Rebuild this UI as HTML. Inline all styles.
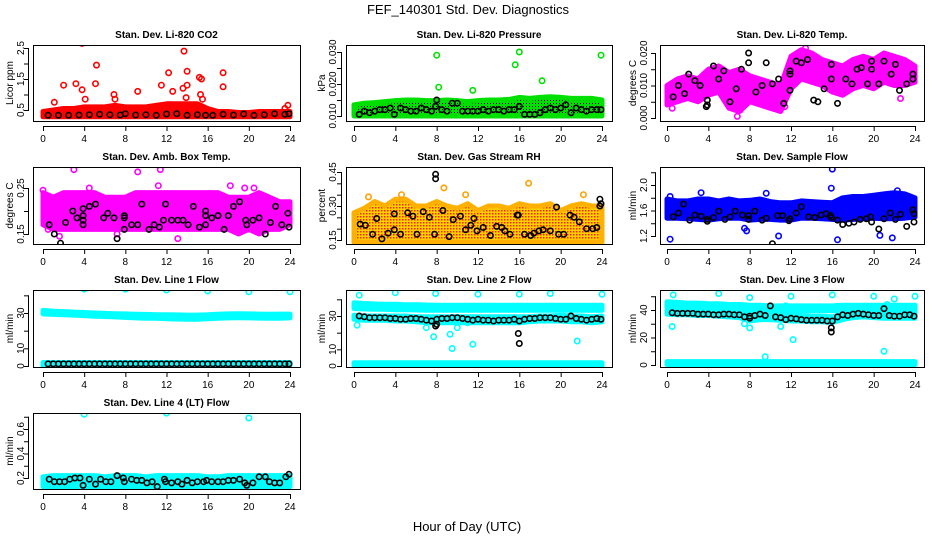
<!DOCTYPE html>
<html><head><meta charset="utf-8"><style>
html,body{margin:0;padding:0;background:#fff;}
svg{display:block;font-family:"Liberation Sans",sans-serif;}
</style></head><body>
<svg id="c" width="936" height="540" viewBox="0 0 936 540">
<defs>
<pattern id="rhpat" width="3" height="3" patternUnits="userSpaceOnUse"><rect width="3" height="3" fill="#ffd000"/><rect x="0" y="0" width="1.5" height="1.5" fill="#ff2000"/></pattern>
<pattern id="prpat" width="3" height="3" patternUnits="userSpaceOnUse"><rect width="3" height="3" fill="#00e000"/><rect x="1" y="1" width="1" height="1" fill="#000"/></pattern>
</defs>
<text x="468" y="14" text-anchor="middle" font-size="13">FEF_140301  Std. Dev. Diagnostics</text>
<text x="467" y="531" text-anchor="middle" font-size="13">Hour of Day (UTC)</text>
</svg>
<script>
// ---------- data ----------
const hours = [0,1,2,3,4,5,6,7,8,9,10,11,12,13,14,15,16,17,18,19,20,21,22,23,24];
const xTicks = [0,4,8,12,16,20,24];

const co2Lo = [0.28,0.28,0.28,0.28,0.28,0.28,0.28,0.28,0.28,0.28,0.28,0.28,0.28,0.28,0.28,0.28,0.28,0.28,0.28,0.28,0.28,0.28,0.28,0.28,0.28];
const co2Hi = [0.45,0.5,0.55,0.55,0.6,0.6,0.6,0.65,0.6,0.6,0.6,0.65,0.7,0.7,0.7,0.7,0.55,0.45,0.45,0.42,0.42,0.45,0.45,0.45,0.45];
const co2BlackX = [0.5,1.5,2.5,3.5,4.5,5.5,6.5,7.5,8,9,10,11,12,13,14,15,15.8,16.5,17.5,18.5,19.5,20.5,21.5,22.5,23.5,23.9];
const co2BlackY = [0.33,0.33,0.33,0.34,0.35,0.36,0.35,0.34,0.38,0.34,0.35,0.33,0.37,0.38,0.33,0.35,0.33,0.33,0.36,0.34,0.37,0.33,0.35,0.38,0.36,0.38];
const co2OutX = [3.8,2,3.2,3.8,4.1,5.2,5.1,1.1,6.9,7,9.2,11.5,12.2,12.6,13.7,13.6,14,14,13.9,15.2,15.4,15.3,15.5,17.5,17.5,23.5,23.8];
const co2OutY = [2.65,1.3,1.35,1.15,0.85,1.95,1.35,0.75,1.0,0.85,1.1,1.3,1.7,1.1,2.4,1.2,1.75,1.3,0.9,1.55,1.5,1.0,0.85,1.7,1.25,0.55,0.65];
const co2Ticks = [0.5,1,1.5,2,2.5];
const co2Labels = ["0.5","","1.5","","2.5"];

const prLo = [0.0100,0.0100,0.0100,0.0100,0.0100,0.0100,0.0100,0.0100,0.0100,0.0100,0.0100,0.0100,0.0100,0.0100,0.0100,0.0100,0.0100,0.0100,0.0100,0.0100,0.0100,0.0100,0.0100,0.0100,0.0100];
const prHi = [0.0135,0.014,0.0142,0.0145,0.0148,0.015,0.015,0.0148,0.0148,0.015,0.0148,0.0145,0.0148,0.015,0.015,0.0152,0.0158,0.0155,0.0158,0.016,0.0158,0.0155,0.0155,0.0155,0.015];
const prBlackX = [0.5,1,1.5,2,2.5,3,3.5,3.9,4.5,5,5.5,6,6.5,7,7.5,7.9,8,8.5,9,9.5,10,10.5,11,11.5,12,12.5,13,13.5,14,14.5,15,15.5,16,16.5,17,17.5,18,18.5,19,19.5,20,20.5,21,21.5,22,22.5,23,23.5,23.9];
const prBlackY = [0.0105,0.0115,0.011,0.0115,0.012,0.012,0.0125,0.0105,0.0125,0.012,0.0115,0.0115,0.0125,0.012,0.0115,0.013,0.015,0.012,0.0115,0.014,0.014,0.0115,0.0115,0.0115,0.0115,0.012,0.0115,0.012,0.012,0.0115,0.012,0.012,0.013,0.0105,0.0105,0.0105,0.011,0.012,0.0125,0.012,0.0125,0.0135,0.011,0.0125,0.012,0.0115,0.012,0.012,0.012];
const prOutX = [8,8.2,11.5,15.6,16,18.2,23.9];
const prOutY = [0.029,0.019,0.018,0.026,0.030,0.021,0.029];
const prTicks = [0.010,0.015,0.020,0.025,0.030];
const prLabels = ["0.010","","0.020","","0.030"];

const tpLo = [0.004,0.005,0.006,0.005,0.007,0.008,0.003,0.002,0.005,0.004,0.003,0.002,0.009,0.012,0.011,0.010,0.008,0.007,0.009,0.010,0.009,0.011,0.010,0.010,0.011];
const tpHi = [0.010,0.012,0.013,0.012,0.015,0.016,0.014,0.015,0.013,0.012,0.011,0.010,0.019,0.021,0.020,0.018,0.017,0.016,0.018,0.019,0.018,0.020,0.019,0.018,0.016];
const tpBlackX = [0.6,1.1,1.7,2.1,2.7,3.2,3.9,3.9,3.8,4.5,5,5.5,6.1,6.7,7.2,7.9,7.9,8.6,9.2,9.6,10.2,10.8,11.3,11.9,11.9,11.9,12.5,13,13.6,14.2,14.6,15.2,15.9,15.9,16.5,17.3,17.9,18.4,18.8,19.4,19.8,19.8,20.5,21,21.7,22.1,22.5,23.2,23.8,23.8];
const tpBlackY = [0.0065,0.010,0.0075,0.0135,0.0115,0.010,0.0055,0.004,0.0035,0.016,0.012,0.0145,0.005,0.009,0.015,0.020,0.017,0.008,0.010,0.017,0.0105,0.012,0.0045,0.0135,0.0145,0.0085,0.0175,0.017,0.018,0.0055,0.005,0.009,0.012,0.0165,0.0045,0.012,0.0105,0.015,0.0155,0.0105,0.0175,0.015,0.0105,0.0175,0.0135,0.0165,0.0085,0.0105,0.0135,0.012];
const tpOutX = [6.8,0.5,7.1,11.4,22.6,13.4];
const tpOutY = [0.0005,0.003,0.0025,0.0035,0.006,0.0215];
const tpTicks = [0,0.005,0.010,0.015,0.020];
const tpLabels = ["0.000","","0.010","","0.020"];

const abLo = [0.17,0.16,0.16,0.16,0.16,0.16,0.16,0.16,0.16,0.16,0.16,0.16,0.16,0.16,0.16,0.16,0.16,0.16,0.16,0.15,0.16,0.15,0.16,0.16,0.17];
const abHi = [0.24,0.23,0.24,0.24,0.24,0.24,0.23,0.23,0.23,0.24,0.24,0.24,0.24,0.24,0.24,0.24,0.24,0.24,0.23,0.23,0.23,0.24,0.23,0.22,0.22];
const abBlackX = [0.6,1.1,1.7,2.2,2.9,3.3,3.9,3.9,3.9,3.9,4.5,5.1,5.9,6.3,6.9,7.2,7.9,7.9,7.9,8.6,9.2,9.6,10.3,10.8,11.3,11.7,11.9,12.5,13.1,13.6,14.1,14.6,15.2,15.8,15.8,15.8,16.4,17,17.6,18,18.5,19.1,19.7,19.8,20.4,21,21.6,22.1,22.6,23.2,23.8,23.9];
const abBlackY = [0.17,0.15,0.13,0.175,0.2,0.185,0.205,0.19,0.18,0.17,0.21,0.215,0.185,0.195,0.185,0.14,0.19,0.16,0.185,0.17,0.17,0.215,0.16,0.17,0.165,0.18,0.215,0.18,0.18,0.18,0.17,0.21,0.165,0.2,0.19,0.17,0.185,0.19,0.16,0.19,0.21,0.22,0.18,0.17,0.18,0.185,0.15,0.175,0.21,0.17,0.195,0.165];
const abOutX = [0,3,9.2,11.4,11.2,16.6,18.2,19.6,20.5,13.1,7.2,1.6,0.5,4.5];
const abOutY = [0.245,0.29,0.285,0.29,0.255,0.305,0.255,0.25,0.25,0.14,0.15,0.145,0.16,0.25];
const abTicks = [0.15,0.20,0.25];
const abLabels = ["0.15","","0.25"];

const rhLo = [0.14,0.14,0.14,0.14,0.14,0.14,0.14,0.14,0.14,0.14,0.14,0.14,0.14,0.14,0.14,0.14,0.14,0.14,0.14,0.14,0.14,0.14,0.14,0.14,0.14];
const rhHi = [0.27,0.29,0.32,0.3,0.33,0.33,0.3,0.3,0.32,0.3,0.29,0.31,0.28,0.3,0.3,0.29,0.31,0.3,0.3,0.31,0.28,0.3,0.31,0.3,0.3];
const rhBlackX = [0.6,1.1,1.8,2.2,2.7,3.3,3.9,3.9,4.5,5.2,5.7,6.1,6.7,7.3,7.9,7.9,7.8,8.6,9.2,9.6,10.3,10.8,11.3,11.6,11.9,12.5,13.2,13.8,14.3,14.6,15.1,15.8,15.9,16.5,17.1,17.4,17.9,18.3,19,19.6,19.8,20.3,20.9,21.3,21.8,22.5,23.1,23.5,23.8,23.9,23.8];
const rhBlackY = [0.22,0.215,0.175,0.245,0.155,0.18,0.265,0.195,0.175,0.27,0.255,0.175,0.275,0.25,0.44,0.42,0.175,0.28,0.165,0.24,0.255,0.195,0.215,0.245,0.19,0.205,0.17,0.21,0.205,0.19,0.175,0.26,0.26,0.175,0.17,0.18,0.19,0.195,0.19,0.295,0.175,0.175,0.26,0.25,0.23,0.2,0.2,0.205,0.33,0.31,0.3];
const rhOutX = [8.7,10.8,16.9,22.2,4.6,1.4];
const rhOutY = [0.38,0.35,0.4,0.35,0.35,0.34];
const rhTicks = [0.15,0.20,0.25,0.30,0.35,0.40,0.45];
const rhLabels = ["0.15","","","0.30","","","0.45"];

const sfLo = [1.48,1.48,1.47,1.46,1.45,1.47,1.48,1.48,1.45,1.46,1.46,1.45,1.45,1.48,1.48,1.47,1.46,1.45,1.46,1.47,1.48,1.47,1.47,1.48,1.5];
const sfHi = [1.78,1.75,1.75,1.78,1.78,1.75,1.78,1.75,1.76,1.78,1.74,1.72,1.72,1.75,1.74,1.73,1.72,1.8,1.82,1.82,1.84,1.86,1.88,1.86,1.8];
const sfBlackX = [0.6,1.1,1.6,2.2,2.7,3.3,3.9,3.9,4.5,5,5.6,6.1,6.6,7.3,7.9,7.9,8.5,9.2,9.6,10.2,10.7,11.2,11.8,11.9,12.5,13,13.7,14.3,14.9,15.4,15.8,15.9,16.5,17,17.6,18.1,18.7,19.3,19.7,19.8,20.5,21,21.6,22.1,22.6,23.2,23.8,23.9,23.9];
const sfBlackY = [1.5,1.56,1.7,1.45,1.53,1.51,1.46,1.43,1.49,1.59,1.46,1.5,1.59,1.53,1.46,1.52,1.59,1.45,1.48,1.08,1.52,1.52,1.44,1.47,1.56,1.66,1.5,1.49,1.53,1.55,1.52,1.49,1.45,1.38,1.4,1.42,1.46,1.47,1.5,1.42,1.31,1.47,1.56,1.46,1.54,1.35,1.61,1.55,1.42];
const sfOutX = [0.3,0.3,7.5,7.7,10.8,16,15.9,16.5,20.6,21.8,3.3,9.6,22.3];
const sfOutY = [1.15,1.82,1.32,1.28,1.2,2.25,1.95,1.14,1.21,1.17,1.88,1.87,1.91];
const sfTicks = [1.2,1.4,1.6,1.8,2.0,2.2];
const sfLabels = ["1.2","","1.6","","2.0",""];

const l1Lo = [29.5,29.2,29,28.8,28.5,28.2,28,27.8,27.5,27.2,27,27,26.8,26.6,26.5,26.5,26.8,27,27.2,27.3,27.2,27.1,27,27,27.2];
const l1Hi = [31.5,31,30.8,30.5,30.3,30,29.8,29.6,29.5,29.3,29.2,29,29,28.9,28.8,28.8,29,29.3,29.5,29.6,29.5,29.4,29.3,29.4,29.4];
const l1BaseLo = [0.3,0.3,0.3,0.3,0.3,0.3,0.3,0.3,0.3,0.3,0.3,0.3,0.3,0.3,0.3,0.3,0.3,0.3,0.3,0.3,0.3,0.3,0.3,0.3,0.3];
const l1BaseHi = [2,2,2,2,2,2,2,2,2,2,2,2,2,2,2,2,2,2,2,2,2,2,2,2,2];
const l1BlackX = [0.5,1,1.5,2,2.5,3,3.5,4,4.5,5,5.5,6,6.5,7,7.5,8,8.5,9,9.5,10,10.5,11,11.5,12,12.5,13,13.5,14,14.5,15,15.5,16,16.5,17,17.5,18,18.5,19,19.5,20,20.5,21,21.5,22,22.5,23,23.5,23.9];
const l1BlackY = [1.2,1.2,1.2,1.2,1.2,1.2,1.2,1.2,1.2,1.2,1.2,1.2,1.2,1.2,1.2,1.2,1.2,1.2,1.2,1.2,1.2,1.2,1.2,1.2,1.2,1.2,1.2,1.2,1.2,1.2,1.2,1.2,1.2,1.2,1.2,1.2,1.2,1.2,1.2,1.2,1.2,1.2,1.2,1.2,1.2,1.2,1.2,1.2];
const l1OutX = [4,8,12,16,20,24];
const l1OutY = [43.5,43.5,43,42.5,42,42];
const l1Ticks = [0,10,20,30,40];
const l1Labels = ["0","10","","30",""];

const l2UpLo = [34.5,34.2,34,34,33.8,33.8,33.6,33.5,33.5,33.5,33.5,33.5,33.4,33.4,33.4,33.4,33.4,33.5,33.5,33.5,33.5,33.5,33.5,33.5,33.5];
const l2UpHi = [38,37.5,37.2,37,37,36.8,36.8,36.6,36.5,36.5,36.5,36.5,36.4,36.4,36.4,36.4,36.5,36.5,36.5,36.5,36.5,36.5,36.5,36.5,36.5];
const l2MidLo = [28,27.5,27.5,27.5,27,27,26.5,26,26,26,26,26,26,26,26,26,26,26.5,27,27,27,26.5,26.5,26,26.5];
const l2MidHi = [30.5,30,30,30,30,30,29.5,29.5,29.5,29.5,29.5,29.5,29.5,29.5,29.5,29.5,29.5,29.5,30,30,30.5,30,30,29.5,30];
const l2BaseLo = [0.3,0.3,0.3,0.3,0.3,0.3,0.3,0.3,0.3,0.3,0.3,0.3,0.3,0.3,0.3,0.3,0.3,0.3,0.3,0.3,0.3,0.3,0.3,0.3,0.3];
const l2BaseHi = [2,2,2,2,2,2,2,2,2,2,2,2,2,2,2,2,2,2,2,2,2,2,2,2,2];
const l2BlackX = [0.5,1,1.5,2,2.5,3,3.5,4,4.5,5,5.5,6,6.5,7,7.5,8,8,7.9,8.5,9,9.5,10,10.5,11,11.5,12,12.5,13,13.5,14,14.5,15,15.5,16,16,15.9,16.5,17,17.5,18,18.5,19,19.5,20,20.5,21,21.5,22,22.5,23,23.5,23.9];
const l2BlackY = [30,29.5,29,29,29,29,28.5,28.5,28,28,28.5,28.5,28,27.5,27,28,25,24,28.5,28.5,29,29,28.5,28,27.5,28,27.5,27.5,27,27.5,27.5,27.5,28,27,13.5,19.5,28,28.5,28.5,29,29,29,28.5,28,28,30,28.5,28,27.5,28,28.5,28];
const l2OutX = [0.5,0.3,4,7.9,7,7.5,7.7,9.5,9.3,10,11,11.5,12,16,18,19,21.6,22,24];
const l2OutY = [42.5,24.5,44,43.5,23,27,17.5,10.5,19,23,26,13,43,43,28,43.5,15,28,43];
const l2Ticks = [0,10,20,30,40];
const l2Labels = ["0","10","","30",""];

const l3UpLo = [42,41.5,41.5,41,41,40.5,40.5,40,40,39.5,39.5,39.5,39.5,39.5,39.5,39.5,39.5,40,40,40,40,40,40,40,40];
const l3UpHi = [46,45.5,45,45,44.5,44.5,44,44,43.5,43.5,43,43,43,43,43,43,43,43.5,43.5,43.5,43.5,43.5,43.5,43.5,43.5];
const l3MidLo = [37,36.5,36.5,36,36,35.5,35,34.5,32,33,33,32.5,32,32,31.5,31.5,31,33,34.5,35,34.5,34,34,34,34];
const l3MidHi = [40,39.5,39.5,39,39,38.5,38,38,37,37,37,36.5,36,36,35.5,35.5,35,37,38,38.5,38,37.5,37.5,37.5,37.5];
const l3BaseLo = [0.3,0.3,0.3,0.3,0.3,0.3,0.3,0.3,0.3,0.3,0.3,0.3,0.3,0.3,0.3,0.3,0.3,0.3,0.3,0.3,0.3,0.3,0.3,0.3,0.3];
const l3BaseHi = [2.5,2.5,2.5,2.5,2.5,2.5,2.5,2.5,2.5,2.5,2.5,2.5,2.5,2.5,2.5,2.5,2.5,2.5,2.5,2.5,2.5,2.5,2.5,2.5,2.5];
const l3BlackX = [0.5,1,1.5,2,2.5,3,3.5,4,4.5,5,5.5,6,6.5,7,7.5,8,8,8.5,9,9.5,10,10.5,11,11.5,12,12.5,13,13.5,14,14.5,15,15.5,16,15.9,15.9,16.5,17,17.5,18,18.5,19,19.5,20,20.5,21,21.5,22,22.5,23,23.5,23.9];
const l3BlackY = [38,37.5,37.5,37.5,37.5,37,37,37,36.5,36.5,37,37,36.5,36.5,35,34,35.5,36,37,36,43,35,34.5,33,34,33.5,33,32.5,32.5,32.5,32.5,32,32,24,27,35,36.5,36,37,37.5,37,36.5,36,36,41,36,35.5,35.5,36.5,36.5,35.5];
const l3OutX = [0.5,0.6,5,8,9.5,11,11.5,12,12.2,16,20,21,21.3,22,24,7.5,8];
const l3OutY = [28,51,52,49,6,28,43,50,18.5,51,50,10,44,48,50,30,27];
const l3Ticks = [0,10,20,30,40,50];
const l3Labels = ["0","","20","","40",""];

const l4Lo = [0.13,0.13,0.13,0.13,0.13,0.13,0.13,0.13,0.13,0.13,0.13,0.13,0.13,0.13,0.13,0.13,0.13,0.13,0.13,0.13,0.13,0.13,0.13,0.13,0.13];
const l4Hi = [0.21,0.22,0.22,0.22,0.22,0.22,0.21,0.22,0.22,0.22,0.21,0.22,0.22,0.22,0.22,0.22,0.21,0.21,0.22,0.22,0.22,0.22,0.22,0.22,0.22];
const l4BlackX = [0.6,1.1,1.6,2.1,2.6,3.1,3.6,3.9,4.5,5.1,5.6,6.1,6.6,7.2,7.8,7.9,8.6,9.1,9.6,10.1,10.6,11.1,11.8,11.9,12.5,13.1,13.5,14,14.5,15,15.6,15.9,16.4,17,17.5,18,18.5,19.1,19.6,19.8,20.4,21,21.6,22,22.5,23,23.6,23.9];
const l4BlackY = [0.19,0.17,0.17,0.17,0.19,0.2,0.2,0.14,0.19,0.15,0.19,0.17,0.17,0.22,0.2,0.17,0.19,0.18,0.18,0.16,0.17,0.13,0.19,0.17,0.16,0.17,0.15,0.18,0.16,0.17,0.17,0.18,0.17,0.17,0.17,0.18,0.18,0.19,0.16,0.14,0.16,0.21,0.21,0.17,0.16,0.16,0.21,0.23];
const l4OutX = [4,12,20];
const l4OutY = [0.72,0.73,0.69];
const l4Ticks = [0.2,0.3,0.4,0.5,0.6,0.7];
const l4Labels = ["0.2","","0.4","","0.6",""];

// ---------- rendering ----------
const NS = "http://www.w3.org/2000/svg";
const svg = document.getElementById("c");
function mk(tag, attrs, parent){
  const e = document.createElementNS(NS, tag);
  for (const k in attrs) e.setAttribute(k, attrs[k]);
  (parent||svg).appendChild(e);
  return e;
}
const COLS = [{l:33,r:300,x0:43,x24:290,yl:10,tl:21},{l:346,r:612,x0:354,x24:602,yl:322,tl:333},{l:660,r:924,x0:667,x24:915,yl:633,tl:644}];
const ROWS = [{t:45,b:121,tt:38},{t:167,b:244,tt:160},{t:290,b:367,tt:283},{t:413,b:489,tt:406}];

function panel(name, title, ylab, col, row, yA, pA, yB, pB, ticks, labels, layers){
  const C = COLS[col], R = ROWS[row];
  const g = mk("g", {});
  
  
  const xs = v => C.x0 + v/24*(C.x24-C.x0);
  const ys = v => pA + (v-yA)*(pB-pA)/(yB-yA);
  const clipId = "clip-" + name;
  const cp = mk("clipPath", {id: clipId}, g);
  mk("rect", {x:C.l, y:R.t, width:C.r-C.l, height:R.b-R.t}, cp);
  const plot = mk("g", {"clip-path": "url(#"+clipId+")"}, g);
  layers.forEach(L => {
    if (L.type === "band") {
      let pts = [];
      for (let i=0;i<L.x.length;i++) pts.push(xs(L.x[i]).toFixed(1)+","+ys(L.hi[i]).toFixed(1));
      for (let i=L.x.length-1;i>=0;i--) pts.push(xs(L.x[i]).toFixed(1)+","+ys(L.lo[i]).toFixed(1));
      const p = mk("polygon", {points: pts.join(" "), fill: L.fill, stroke: L.stroke, "stroke-width": 5, "stroke-linejoin": "round"}, plot);
      
      
    } else {
      const n = Math.min(L.x.length, L.y.length);
      for (let i=0;i<n;i++){
        const c = mk("circle", {cx: xs(L.x[i]).toFixed(1), cy: ys(L.y[i]).toFixed(1), r: 2.7, fill: "none", stroke: L.color, "stroke-width": 1.6}, plot);
        
        
      }
    }
  });
  const box = mk("rect", {x:C.l+0.5, y:R.t+0.5, width:C.r-C.l, height:R.b-R.t, fill:"none", stroke:"#000", "stroke-width":1}, g);
  
  
  // x axis
  const xa = mk("g", {}, g);
  
  
  mk("line", {x1:xs(0), x2:xs(24), y1:R.b+5.5, y2:R.b+5.5, stroke:"#000"}, xa);
  xTicks.forEach(t => {
    mk("line", {x1:xs(t)+0.5, x2:xs(t)+0.5, y1:R.b+5, y2:R.b+10, stroke:"#000"}, xa);
    const tx = mk("text", {x:xs(t), y:R.b+21, "text-anchor":"middle", "font-size":10}, xa);
    tx.textContent = t;
  });
  // y axis
  const ya = mk("g", {}, g);
  
  
  const vis = ticks.filter(t => ys(t) >= R.t-1 && ys(t) <= R.b+1);
  mk("line", {x1:C.l-4.5, x2:C.l-4.5, y1:ys(vis[0]), y2:ys(vis[vis.length-1]), stroke:"#000"}, ya);
  ticks.forEach((t,i) => {
    const y = ys(t);
    if (y < R.t-1 || y > R.b+1) return;
    mk("line", {x1:C.l-9, x2:C.l-4, y1:y+0.5, y2:y+0.5, stroke:"#000"}, ya);
    if (labels[i]) {
      const tx = mk("text", {x:C.tl+3, y:y, "text-anchor":"middle", "font-size":10, transform:"rotate(-90 "+(C.tl+3)+" "+y+")"}, ya);
      tx.textContent = labels[i];
    }
  });
  const ym = (R.t+R.b)/2;
  const yl = mk("text", {x:C.yl+3, y:ym, "text-anchor":"middle", "font-size":10, transform:"rotate(-90 "+(C.yl+3)+" "+ym+")"}, g);
  yl.textContent = ylab;
  
  
  const tt = mk("text", {x:(C.l+C.r)/2, y:R.tt, "text-anchor":"middle", "font-size":10, "font-weight":"bold"}, g);
  tt.textContent = title;
  
  
}

const RED="#ff0000", GRN="#00e000", MAG="#ff00ff", BLU="#0000ff", CYA="#00ffff", BLK="#000";
panel("co2","Stan. Dev. Li-820 CO2","Licor ppm",0,0,0.5,110,2.5,48,co2Ticks,co2Labels,[
  {type:"band",nm:"cloud",x:hours,lo:co2Lo,hi:co2Hi,fill:RED,stroke:RED},
  {type:"pts",nm:"outlier",x:co2OutX,y:co2OutY,color:RED},
  {type:"pts",nm:"black",x:co2BlackX,y:co2BlackY,color:BLK}]);
panel("pressure","Stan. Dev. Li-820 Pressure","kPa",1,0,0.010,116,0.030,52,prTicks,prLabels,[
  {type:"band",nm:"cloud",x:hours,lo:prLo,hi:prHi,fill:"url(#prpat)",stroke:GRN},
  {type:"pts",nm:"outlier",x:prOutX,y:prOutY,color:GRN},
  {type:"pts",nm:"black",x:prBlackX,y:prBlackY,color:BLK}]);
panel("temp","Stan. Dev. Li-820 Temp.","degrees C",2,0,0,118,0.020,53,tpTicks,tpLabels,[
  {type:"band",nm:"cloud",x:hours,lo:tpLo,hi:tpHi,fill:MAG,stroke:MAG},
  {type:"pts",nm:"outlier",x:tpOutX,y:tpOutY,color:MAG},
  {type:"pts",nm:"black",x:tpBlackX,y:tpBlackY,color:BLK}]);
panel("ambbox","Stan. Dev. Amb. Box Temp.","degrees C",0,1,0.15,234,0.25,188,abTicks,abLabels,[
  {type:"band",nm:"cloud",x:hours,lo:abLo,hi:abHi,fill:MAG,stroke:MAG},
  {type:"pts",nm:"outlier",x:abOutX,y:abOutY,color:MAG},
  {type:"pts",nm:"black",x:abBlackX,y:abBlackY,color:BLK}]);
panel("rh","Stan. Dev. Gas Stream RH","percent",1,1,0.15,240,0.45,172,rhTicks,rhLabels,[
  {type:"band",nm:"cloud",x:hours,lo:rhLo,hi:rhHi,fill:"url(#rhpat)",stroke:"#ffb000"},
  {type:"pts",nm:"outlier",x:rhOutX,y:rhOutY,color:"#ffa000"},
  {type:"pts",nm:"black",x:rhBlackX,y:rhBlackY,color:BLK}]);
panel("sampleflow","Stan. Dev. Sample Flow","ml/min",2,1,1.2,236,2.0,185,sfTicks,sfLabels,[
  {type:"band",nm:"cloud",x:hours,lo:sfLo,hi:sfHi,fill:BLU,stroke:BLU},
  {type:"pts",nm:"outlier",x:sfOutX,y:sfOutY,color:BLU},
  {type:"pts",nm:"black",x:sfBlackX,y:sfBlackY,color:BLK}]);
panel("line1","Stan. Dev. Line 1 Flow","ml/min",0,2,0,366,30,313,l1Ticks,l1Labels,[
  {type:"band",nm:"cloud",x:hours,lo:l1Lo,hi:l1Hi,fill:CYA,stroke:CYA},
  {type:"band",nm:"base",x:hours,lo:l1BaseLo,hi:l1BaseHi,fill:CYA,stroke:CYA},
  {type:"pts",nm:"outlier",x:l1OutX,y:l1OutY,color:CYA},
  {type:"pts",nm:"black",x:l1BlackX,y:l1BlackY,color:BLK}]);
panel("line2","Stan. Dev. Line 2 Flow","ml/min",1,2,0,366,30,316,l2Ticks,l2Labels,[
  {type:"band",nm:"upper-cloud",x:hours,lo:l2UpLo,hi:l2UpHi,fill:CYA,stroke:CYA},
  {type:"band",nm:"mid-cloud",x:hours,lo:l2MidLo,hi:l2MidHi,fill:CYA,stroke:CYA},
  {type:"band",nm:"base",x:hours,lo:l2BaseLo,hi:l2BaseHi,fill:CYA,stroke:CYA},
  {type:"pts",nm:"outlier",x:l2OutX,y:l2OutY,color:CYA},
  {type:"pts",nm:"black",x:l2BlackX,y:l2BlackY,color:BLK}]);
panel("line3","Stan. Dev. Line 3 Flow","ml/min",2,2,0,365,40,310,l3Ticks,l3Labels,[
  {type:"band",nm:"upper-cloud",x:hours,lo:l3UpLo,hi:l3UpHi,fill:CYA,stroke:CYA},
  {type:"band",nm:"mid-cloud",x:hours,lo:l3MidLo,hi:l3MidHi,fill:CYA,stroke:CYA},
  {type:"band",nm:"base",x:hours,lo:l3BaseLo,hi:l3BaseHi,fill:CYA,stroke:CYA},
  {type:"pts",nm:"outlier",x:l3OutX,y:l3OutY,color:CYA},
  {type:"pts",nm:"black",x:l3BlackX,y:l3BlackY,color:BLK}]);
panel("line4","Stan. Dev. Line 4 (LT) Flow","ml/min",0,3,0.2,478,0.6,429,l4Ticks,l4Labels,[
  {type:"band",nm:"cloud",x:hours,lo:l4Lo,hi:l4Hi,fill:CYA,stroke:CYA},
  {type:"pts",nm:"outlier",x:l4OutX,y:l4OutY,color:CYA},
  {type:"pts",nm:"black",x:l4BlackX,y:l4BlackY,color:BLK}]);
</script>
</body></html>
